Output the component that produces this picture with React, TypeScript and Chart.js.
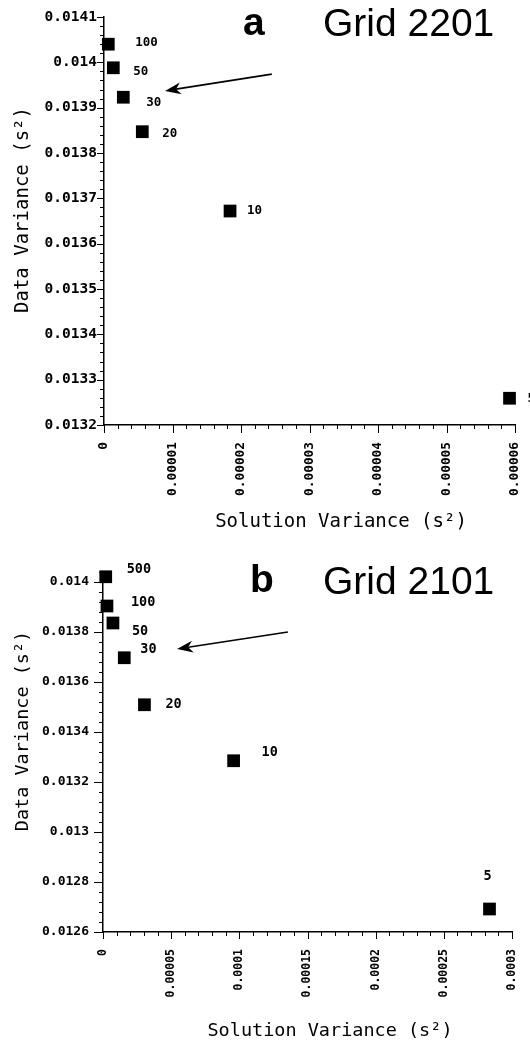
import React, { useEffect, useRef } from 'react';
import { Chart, registerables } from 'chart.js';

Chart.register(...registerables);

// ---------- Panel a : Grid 2201 ----------
const levelsA = ['100', '50', '30', '20', '10', '5'];
const solutionVarA = [6.3e-7, 1.36e-6, 2.82e-6, 5.59e-6, 1.84e-5, 5.92e-5];
const dataVarA = [0.01404, 0.013988, 0.013923, 0.013847, 0.013672, 0.013259];
const xTickLabelsA = ['0', '0.00001', '0.00002', '0.00003', '0.00004', '0.00005', '0.00006'];
const yTickLabelsA = ['0.0132', '0.0133', '0.0134', '0.0135', '0.0136', '0.0137', '0.0138', '0.0139', '0.014', '0.0141'];
const arrowA = { from: [2.45e-5, 0.013974], to: [8.9e-6, 0.013937] };

// ---------- Panel b : Grid 2101 ----------
const levelsB = ['500', '100', '50', '30', '20', '10', '5'];
const solutionVarB = [2.0e-6, 2.9e-6, 7.3e-6, 1.56e-5, 3.04e-5, 9.58e-5, 2.835e-4];
const dataVarB = [0.014021, 0.013904, 0.013836, 0.013697, 0.013509, 0.013285, 0.012692];
const xTickLabelsB = ['0', '0.00005', '0.0001', '0.00015', '0.0002', '0.00025', '0.0003'];
const yTickLabelsB = ['0.0126', '0.0128', '0.013', '0.0132', '0.0134', '0.0136', '0.0138', '0.014'];
const arrowB = { from: [1.356e-4, 0.0138], to: [5.43e-5, 0.013732] };

// label offsets (pixels) relative to each square
const labelDxA = [27, 20, 23, 20, 17, 18];
const labelDyA = [-1, 4, 6, 2, 0, 0];
const labelDxB = [21, 24, 19, 16, 21, 28, -6];
const labelDyB = [-7, -4, 8, -8, 0, -8, -33];

type Panel = {
  top: number;
  height: number;
  letter: string;
  gridName: string;
  letterX: number;
  letterY: number;
  gridX: number;
  gridY: number;
  levels: string[];
  xs: number[];
  ys: number[];
  xLabels: string[];
  yLabels: string[];
  arrow: { from: number[]; to: number[] };
  dx: number[];
  dy: number[];
  xMin: number; xMax: number; xMajor: number; xMinor: number;
  yMin: number; yMax: number; yMajor: number; yMinor: number;
  padTop: number; padRight: number;
  yWidth: number; xHeight: number;
  yLabelPad: number; xLabelPad: number;
  xMajorLen: number; yMajorLen: number;
  xTickSize: number; yTickSize: number; labelSize: number; titleSize: number;
  yTitleX: number; yTitleY: number;
  xTitleX: number; xTitleY: number;
};

const panels: Panel[] = [
  {
    top: 0, height: 540,
    letter: 'a', gridName: 'Grid 2201',
    letterX: 243, letterY: 35, gridX: 323, gridY: 36,
    levels: levelsA, xs: solutionVarA, ys: dataVarA,
    xLabels: xTickLabelsA, yLabels: yTickLabelsA, arrow: arrowA,
    dx: labelDxA, dy: labelDyA,
    xMin: 0, xMax: 6e-5, xMajor: 1e-5, xMinor: 2e-6,
    yMin: 0.0132, yMax: 0.0141, yMajor: 1e-4, yMinor: 2e-5,
    padTop: 17, padRight: 15, yWidth: 104, xHeight: 115,
    yLabelPad: 7, xLabelPad: 17, xMajorLen: 8, yMajorLen: 7,
    xTickSize: 12.8, yTickSize: 14.5, labelSize: 12.5, titleSize: 19,
    yTitleX: 23, yTitleY: 210, xTitleX: 341, xTitleY: 522,
  },
  {
    top: 540, height: 506,
    letter: 'b', gridName: 'Grid 2101',
    letterX: 250, letterY: 52, gridX: 323, gridY: 54,
    levels: levelsB, xs: solutionVarB, ys: dataVarB,
    xLabels: xTickLabelsB, yLabels: yTickLabelsB, arrow: arrowB,
    dx: labelDxB, dy: labelDyB,
    xMin: 0, xMax: 3e-4, xMajor: 5e-5, xMinor: 1e-5,
    yMin: 0.0126, yMax: 0.01404, yMajor: 2e-4, yMinor: 4e-5,
    padTop: 32, padRight: 18, yWidth: 103, xHeight: 114,
    yLabelPad: 14, xLabelPad: 17, xMajorLen: 7, yMajorLen: 9,
    xTickSize: 11.5, yTickSize: 13, labelSize: 13.5, titleSize: 18.5,
    yTitleX: 23, yTitleY: 191, xTitleX: 330, xTitleY: 491,
  },
];

const MONO = '"DejaVu Sans Mono", "Liberation Mono", monospace';
const SANS = '"Liberation Sans", Arial, sans-serif';

function majorLabel(v: number, min: number, major: number, labels: string[]) {
  const k = (v - min) / major;
  const r = Math.round(k);
  if (Math.abs(k - r) < 1e-3 && r >= 0 && r < labels.length) return labels[r];
  return '';
}

function drawArrow(ctx: CanvasRenderingContext2D, fx: number, fy: number, tx: number, ty: number) {
  const ang = Math.atan2(ty - fy, tx - fx);
  const c = Math.cos(ang), s = Math.sin(ang);
  const L = 16, W = 6;
  const bx = tx - L * c, by = ty - L * s;
  const nx = tx - 0.7 * L * c, ny = ty - 0.7 * L * s;
  ctx.save();
  ctx.strokeStyle = '#000';
  ctx.fillStyle = '#000';
  ctx.lineWidth = 1.6;
  ctx.beginPath();
  ctx.moveTo(fx, fy);
  ctx.lineTo(nx, ny);
  ctx.stroke();
  ctx.beginPath();
  ctx.moveTo(tx, ty);
  ctx.lineTo(bx - W * s, by + W * c);
  ctx.lineTo(nx, ny);
  ctx.lineTo(bx + W * s, by - W * c);
  ctx.closePath();
  ctx.fill();
  ctx.restore();
}

function makeDecor(p: Panel) {
  return {
    id: 'decor',
    afterDraw(chart: any) {
      const { ctx, chartArea } = chart;
      const xs = chart.scales.x;
      const ys = chart.scales.y;
      ctx.save();
      ctx.strokeStyle = '#000';
      ctx.lineWidth = 1;
      // tick marks
      xs.ticks.forEach((t: any) => {
        const px = Math.round(xs.getPixelForValue(t.value)) + 0.5;
        const len = t.label ? p.xMajorLen : 4;
        ctx.beginPath();
        ctx.moveTo(px, chartArea.bottom);
        ctx.lineTo(px, chartArea.bottom + len);
        ctx.stroke();
      });
      ys.ticks.forEach((t: any) => {
        const py = Math.round(ys.getPixelForValue(t.value)) + 0.5;
        const len = t.label ? p.yMajorLen : 4;
        ctx.beginPath();
        ctx.moveTo(chartArea.left, py);
        ctx.lineTo(chartArea.left - len, py);
        ctx.stroke();
      });

      // data labels
      const meta = chart.getDatasetMeta(0);
      ctx.fillStyle = '#000';
      ctx.font = `bold ${p.labelSize}px ${MONO}`;
      ctx.textAlign = 'left';
      ctx.textBaseline = 'middle';
      meta.data.forEach((el: any, i: number) => {
        ctx.fillText(p.levels[i], el.x + p.dx[i], el.y + p.dy[i]);
      });

      // arrow
      drawArrow(
        ctx,
        xs.getPixelForValue(p.arrow.from[0]), ys.getPixelForValue(p.arrow.from[1]),
        xs.getPixelForValue(p.arrow.to[0]), ys.getPixelForValue(p.arrow.to[1])
      );

      // panel letter and grid name
      ctx.textBaseline = 'alphabetic';
      ctx.textAlign = 'left';
      ctx.font = `bold 39px ${SANS}`;
      ctx.fillText(p.letter, p.letterX, p.letterY);
      ctx.font = `39px ${SANS}`;
      ctx.fillText(p.gridName, p.gridX, p.gridY);

      // axis titles
      ctx.font = `${p.titleSize}px ${MONO}`;
      ctx.textAlign = 'center';
      ctx.textBaseline = 'middle';
      ctx.fillText('Solution Variance (s²)', p.xTitleX, p.xTitleY);
      ctx.save();
      ctx.translate(p.yTitleX, p.yTitleY);
      ctx.rotate(-Math.PI / 2);
      ctx.fillText('Data Variance (s²)', 0, 0);
      ctx.restore();

      ctx.restore();
    },
  };
}

function PanelChart({ p }: { p: Panel }) {
  const ref = useRef<HTMLCanvasElement>(null);
  useEffect(() => {
    if (!ref.current) return;
    const chart = new Chart(ref.current, {
      type: 'scatter',
      data: {
        datasets: [
          {
            data: p.xs.map((x, i) => ({ x, y: p.ys[i] })),
            pointStyle: 'rect',
            pointRadius: 9,
            pointHoverRadius: 9,
            backgroundColor: '#000',
            borderColor: '#000',
            borderWidth: 0,
            clip: false as any,
          },
        ],
      },
      options: {
        responsive: false,
        animation: false,
        events: [],
        layout: { padding: { top: p.padTop, right: p.padRight, left: 0, bottom: 0 } },
        plugins: {
          legend: { display: false },
          tooltip: { enabled: false },
          title: { display: false },
        },
        scales: {
          x: {
            type: 'linear',
            min: p.xMin,
            max: p.xMax,
            border: { display: true, color: '#000', width: 1.5 },
            grid: { display: false, drawTicks: false },
            ticks: {
              stepSize: p.xMinor,
              autoSkip: false,
              maxRotation: 90,
              minRotation: 90,
              padding: p.xLabelPad,
              color: '#000',
              font: { family: MONO, size: p.xTickSize, weight: 'bold' },
              callback: (v: any) => majorLabel(Number(v), p.xMin, p.xMajor, p.xLabels),
            },
            afterFit: (s: any) => {
              s.height = p.xHeight;
              s.paddingLeft = 0;
              s.paddingRight = 0;
            },
          },
          y: {
            type: 'linear',
            min: p.yMin,
            max: p.yMax,
            border: { display: true, color: '#000', width: 1.5 },
            grid: { display: false, drawTicks: false },
            ticks: {
              stepSize: p.yMinor,
              autoSkip: false,
              padding: p.yLabelPad,
              color: '#000',
              font: { family: MONO, size: p.yTickSize, weight: 'bold' },
              callback: (v: any) => majorLabel(Number(v), p.yMin, p.yMajor, p.yLabels),
            },
            afterFit: (s: any) => {
              s.width = p.yWidth;
              s.paddingTop = 0;
              s.paddingBottom = 0;
            },
          },
        },
      },
      plugins: [makeDecor(p)],
    });
    return () => chart.destroy();
  }, [p]);
  return (
    <div style={{ position: 'absolute', left: 0, top: p.top, width: 530, height: p.height }}>
      <canvas ref={ref} width={530} height={p.height} style={{ display: 'block' }} />
    </div>
  );
}

export default function App() {
  return (
    <div style={{ position: 'absolute', left: 0, top: 0, width: 530, height: 1046, background: '#fff' }}>
      {panels.map((p) => (
        <PanelChart key={p.letter} p={p} />
      ))}
    </div>
  );
}
